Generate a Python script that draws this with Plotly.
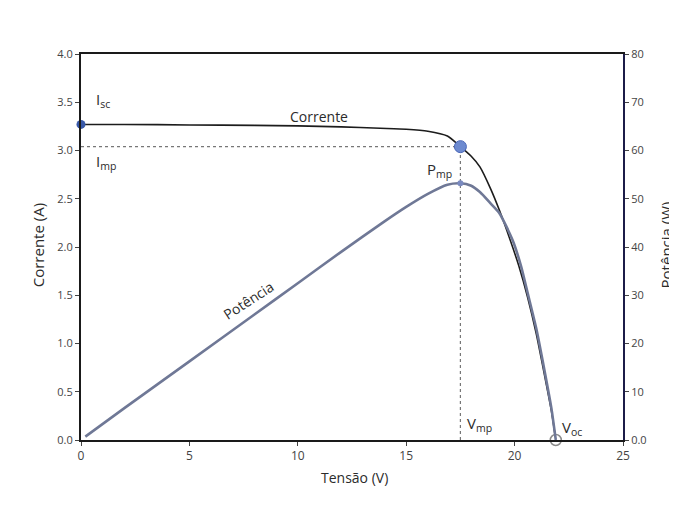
import plotly.graph_objects as go

# ---- data ----
tensao_i = [0.0, 2.0, 5.0, 8.0, 10.0, 12.0, 13.8, 15.0, 16.0, 16.9, 17.5, 18.0, 18.4, 18.9, 19.3, 19.8, 20.2, 20.6, 21.0, 21.4, 21.7, 21.9]
corrente = [3.27, 3.27, 3.265, 3.26, 3.255, 3.245, 3.23, 3.22, 3.2, 3.15, 3.04, 2.94, 2.83, 2.6, 2.38, 2.07, 1.8, 1.48, 1.1, 0.65, 0.3, 0.0]

tensao_p = [0.2, 2.0, 5.0, 8.0, 10.0, 12.0, 14.0, 15.0, 16.0, 16.9, 17.5, 18.0, 18.4, 18.9, 19.3, 19.9, 20.3, 20.6, 21.0, 21.4, 21.7, 21.9]
potencia = [0.7, 6.6, 16.3, 26.0, 32.5, 39.0, 45.3, 48.3, 51.0, 52.9, 53.2, 52.7, 51.4, 49.0, 47.0, 41.5, 36.0, 30.5, 23.1, 13.9, 6.5, 0.0]

isc = 3.27
imp = 3.04
vmp = 17.5
pmp = 53.2
voc = 21.9

x_ticks = [0, 5, 10, 15, 20, 25]
y_ticks = [0.0, 0.5, 1.0, 1.5, 2.0, 2.5, 3.0, 3.5, 4.0]
y_ticklabels = ["0.0", "0.5", "1.0", "1.5", "2.0", "2.5", "3.0", "3.5", "4.0"]
y2_ticks = [0, 10, 20, 30, 40, 50, 60, 70, 80]
y2_ticklabels = ["0.0", "10", "20", "30", "40", "50", "60", "70", "80"]

FONT = "Open Sans"
TXT = "#2b2b2b"

fig = go.Figure()

# dotted guide lines
fig.add_trace(go.Scatter(x=[0, vmp], y=[imp, imp], mode="lines",
                         line=dict(color="#777777", width=1.2, dash="dot"),
                         showlegend=False, hoverinfo="skip"))
fig.add_trace(go.Scatter(x=[vmp, vmp], y=[0, imp], mode="lines",
                         line=dict(color="#777777", width=1.2, dash="dot"),
                         showlegend=False, hoverinfo="skip"))

# power curve
fig.add_trace(go.Scatter(x=tensao_p, y=potencia, mode="lines", yaxis="y2",
                         line=dict(color="#6f7896", width=2.6, shape="spline", smoothing=0.6),
                         showlegend=False))
# current curve
fig.add_trace(go.Scatter(x=tensao_i, y=corrente, mode="lines",
                         line=dict(color="#1c1c1c", width=1.6, shape="spline", smoothing=0.6),
                         showlegend=False))

# markers
fig.add_trace(go.Scatter(x=[0], y=[isc], mode="markers", cliponaxis=False,
                         marker=dict(color="#3858a8", size=9), showlegend=False))
fig.add_trace(go.Scatter(x=[vmp], y=[imp], mode="markers", cliponaxis=False,
                         marker=dict(color="#6d8ad0", size=12, line=dict(color="#4a67b8", width=1)),
                         showlegend=False))
fig.add_trace(go.Scatter(x=[vmp], y=[pmp], mode="markers", yaxis="y2", cliponaxis=False,
                         marker=dict(color="#7a8ac0", size=6), showlegend=False))
fig.add_trace(go.Scatter(x=[voc], y=[0], mode="markers", cliponaxis=False,
                         marker=dict(color="white", size=11, line=dict(color="#8a8a8a", width=1.5)),
                         showlegend=False))

ann_font = dict(family=FONT, size=15, color=TXT)
title_font = dict(family=FONT, size=15, color=TXT)
annotations = [
    dict(x=0.6, y=3.52, xref="x", yref="y", text="I<sub>sc</sub>", showarrow=False,
         xanchor="left", font=ann_font),
    dict(x=0.6, y=2.88, xref="x", yref="y", text="I<sub>mp</sub>", showarrow=False,
         xanchor="left", font=ann_font),
    dict(x=11.0, y=3.35, xref="x", yref="y", text="Corrente", showarrow=False,
         xanchor="center", font=dict(family=FONT, size=14, color=TXT)),
    dict(x=17.2, y=2.80, xref="x", yref="y", text="P<sub>mp</sub>", showarrow=False,
         xanchor="right", font=ann_font),
    dict(x=7.7, y=29.0, xref="x", yref="y2", text="Potência", showarrow=False,
         textangle=-33, font=dict(family=FONT, size=14, color=TXT)),
    dict(x=17.7, y=0.17, xref="x", yref="y", text="V<sub>mp</sub>", showarrow=False,
         xanchor="left", font=ann_font),
    dict(x=22.1, y=0.12, xref="x", yref="y", text="V<sub>oc</sub>", showarrow=False,
         xanchor="left", font=ann_font),
    # axis titles
    dict(x=-0.079, y=0.505, xref="paper", yref="paper", text="Corrente (A)", showarrow=False,
         textangle=-90, xanchor="center", yanchor="middle", font=title_font),
    dict(x=0.5055, y=-0.098, xref="paper", yref="paper", text="Tensão (V)", showarrow=False,
         xanchor="center", yanchor="middle", font=dict(family=FONT, size=14, color=TXT)),
    dict(x=1.08, y=0.505, xref="paper", yref="paper", text="Potência (W)", showarrow=False,
         textangle=-90, xanchor="center", yanchor="middle", font=title_font),
]

fig.update_layout(
    width=677, height=509,
    margin=dict(l=73, r=62, t=46, b=77, autoexpand=False),
    paper_bgcolor="white", plot_bgcolor="white",
    font=dict(family=FONT, size=11, color="#444444"),
    annotations=annotations,
    xaxis=dict(range=[0, 25], tickvals=x_ticks, ticks="outside", ticklen=4,
               showline=True, linecolor="#1a1a1a", linewidth=2, mirror=True,
               showgrid=False, zeroline=False, automargin=False,
               tickfont=dict(family=FONT, size=12, color="#444444")),
    yaxis=dict(range=[0, 4], tickvals=y_ticks, ticktext=y_ticklabels, ticks="outside", ticklen=4,
               showline=True, linecolor="#1a1a1a", linewidth=2,
               showgrid=False, zeroline=False, automargin=False,
               tickfont=dict(family=FONT, size=11, color="#444444")),
    yaxis2=dict(range=[0, 80], overlaying="y", side="right", tickvals=y2_ticks, ticktext=y2_ticklabels,
                ticks="outside", ticklen=4, showline=True, linecolor="#1c1c48", linewidth=2,
                showgrid=False, zeroline=False, automargin=False,
                tickfont=dict(family=FONT, size=11, color="#444444")),
)

fig.write_html("out.html")
